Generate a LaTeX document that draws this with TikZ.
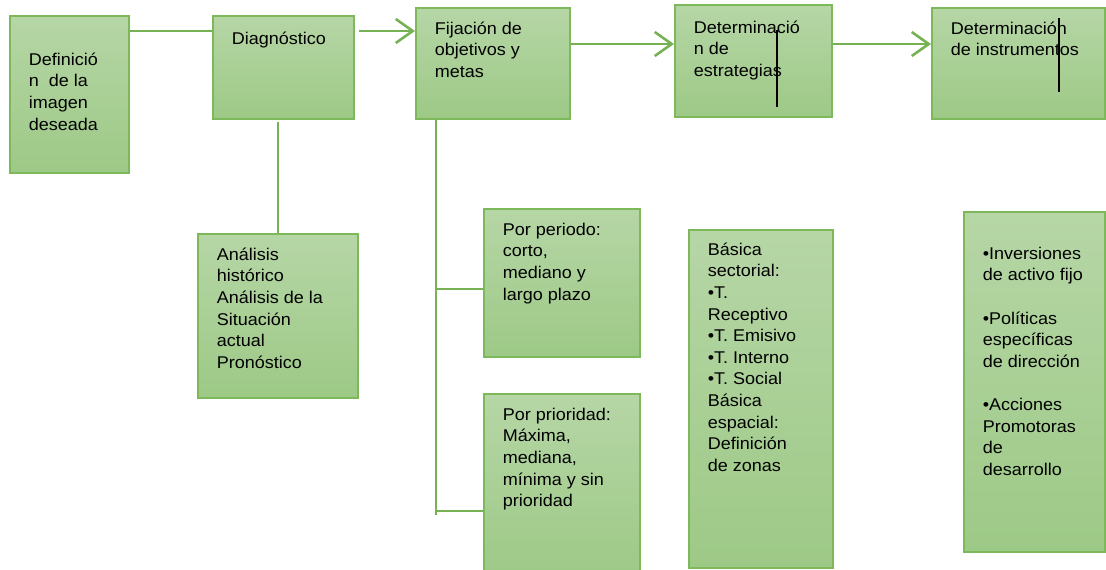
\documentclass[tikz,border=0pt]{standalone}
\usepackage{fontspec}
\setmainfont{Liberation Sans}[FakeStretch=1.06]
\usepackage{xcolor,tikz}
\usetikzlibrary{arrows.meta,calc,positioning}
\definecolor{verdeborde}{RGB}{125,185,90}
\definecolor{verdearriba}{RGB}{182,214,166}
\definecolor{verdeabajo}{RGB}{157,201,134}
\definecolor{verdelinea}{RGB}{118,178,84}
\newcommand{\bloque}[3]{\parbox[t][#2pt][t]{#1pt}{\raggedright\strut #3}}
\tikzset{
  caja/.style={rectangle, draw=verdeborde, line width=1.6pt, top color=verdearriba,
    bottom color=verdeabajo, inner xsep=19pt, anchor=north west,
    font=\fontsize{17}{21.6}\selectfont},
  enlace/.style={draw=verdelinea, line width=2pt},
  flecha/.style={draw=verdelinea, line width=2.6pt, -{Straight Barb[length=17pt,width=24pt]}},
  marca/.style={draw=black, line width=1.4pt}
}

\begin{document}
\begin{tikzpicture}[x=1pt,y=-1pt]
\useasboundingbox (0,0) rectangle (1106,570);
\clip (0,0) rectangle (1106,570);
%%%%%%%%%%%% fila de arriba
\node[caja, inner ysep=34.3pt, minimum width=119pt, minimum height=157pt] (imagen) at (9,15)
  {\bloque{81}{88.4}{Definició\\n~ de la\\imagen\\deseada}};
\node[caja, inner ysep=13.3pt, minimum width=141pt, minimum height=103pt] (diagnostico) at (212,15)
  {\bloque{103}{76.4}{Diagnóstico}};
\node[caja, inner ysep=11.3pt, minimum width=154pt, minimum height=111pt] (fijacion) at (415,7)
  {\bloque{116}{88.4}{Fijación de\\objetivos y\\metas}};
\node[caja, inner ysep=13.3pt, minimum width=157pt, minimum height=112pt] (estrategias) at (674,4)
  {\bloque{119}{85.4}{Determinació\\n de\\estrategias}};
\node[caja, inner ysep=11.3pt, minimum width=173pt, minimum height=111pt] (instrumentos) at (931,7)
  {\bloque{135}{88.4}{Determinación\\de instrumentos}};
%%%%%%%%%%%% cajas de abajo
\node[caja, inner ysep=11.3pt, minimum width=160pt, minimum height=164pt] (historico) at (197,233)
  {\bloque{122}{141.4}{Análisis\\histórico\\Análisis de la\\Situación\\actual\\Pronóstico}};
\node[caja, inner ysep=11.3pt, minimum width=156pt, minimum height=148pt] (periodo) at (483,208)
  {\bloque{118}{125.4}{Por periodo:\\corto,\\mediano y\\largo plazo}};
\node[caja, inner ysep=11.3pt, minimum width=156pt, minimum height=185pt] (prioridad) at (483,393)
  {\bloque{118}{162.4}{Por prioridad:\\Máxima,\\mediana,\\mínima y sin\\prioridad}};
\node[caja, inner ysep=10.3pt, minimum width=144pt, minimum height=338pt] (basica) at (688,229)
  {\bloque{106}{317.4}{Básica\\sectorial:\\•T.\\Receptivo\\•T. Emisivo\\•T. Interno\\•T. Social\\Básica\\espacial:\\Definición\\de zonas}};
\node[caja, inner ysep=32.3pt, minimum width=141pt, minimum height=340pt] (inversiones) at (963,211)
  {\bloque{103}{275.4}{•Inversiones\\de activo fijo\\[21.6pt]•Políticas\\específicas\\de dirección\\[21.6pt]•Acciones\\Promotoras\\de\\desarrollo}};
%%%%%%%%%%%% conectores
\coordinate (a1) at ([yshift=-16pt]imagen.north east);
\coordinate (a2) at ([xshift=4pt,yshift=-16pt]diagnostico.north east);
\coordinate (a3) at ([yshift=-37pt]fijacion.north east);
\coordinate (a4) at ([yshift=-40pt]estrategias.north east);
\draw[enlace] (a1) -- (a1 -| diagnostico.west);
\draw[flecha] (a2) -- (a2 -| fijacion.west);
\draw[flecha] (a3) -- (a3 -| estrategias.west);
\draw[flecha] (a4) -- (a4 -| instrumentos.west);
\draw[enlace] ([yshift=-2pt]historico.north |- diagnostico.south) -- (historico.north);
\coordinate (t0) at ([xshift=21pt]fijacion.south west);
\coordinate (r1) at ([yshift=-81pt]periodo.north west);
\coordinate (r2) at ([yshift=-118pt]prioridad.north west);
\coordinate (t1) at ([yshift=-4pt]r2);
\draw[enlace] (t0) -- (t0 |- t1);
\draw[enlace] (t0 |- r1) -- (r1);
\draw[enlace] (t0 |- r2) -- (r2);
%%%%%%%%%%%% rayas negras
\draw[marca] ([xshift=103pt,yshift=-26pt]estrategias.north west) -- ([xshift=103pt,yshift=-103pt]estrategias.north west);
\draw[marca] ([xshift=128pt,yshift=-11pt]instrumentos.north west) -- ([xshift=128pt,yshift=-85pt]instrumentos.north west);
\end{tikzpicture}
\end{document}
